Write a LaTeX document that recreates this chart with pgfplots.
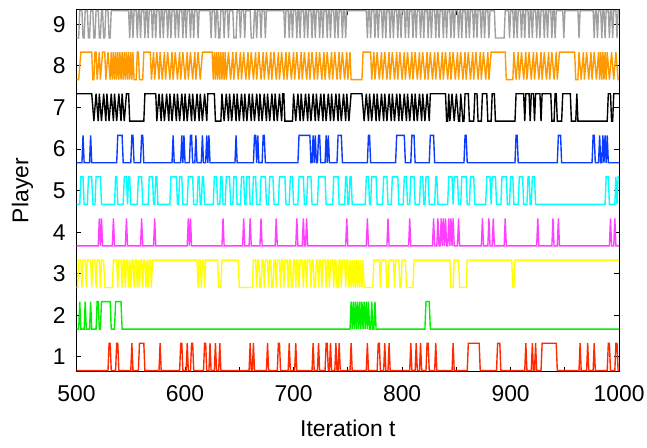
\documentclass[border=0pt]{standalone}
\usepackage{fontspec}
\setmainfont{Liberation Sans}
\usepackage{pgfplots}
\pgfplotsset{compat=1.18}
\definecolor{cred}{HTML}{FF2A00}
\definecolor{cgreen}{HTML}{00F000}
\definecolor{cyellow}{HTML}{FFFF00}
\definecolor{cmag}{HTML}{FF40FF}
\definecolor{ccyan}{HTML}{00FFFF}
\definecolor{cblue}{HTML}{0A3CFF}
\definecolor{corange}{HTML}{FF9900}
\definecolor{cgray}{HTML}{A0A0A0}
\begin{document}
\begin{tikzpicture}
\begin{axis}[
 width=273pt, height=182pt, scale only axis,
 xmin=500, xmax=1000, ymin=0.65, ymax=9.35,
 xtick={500,600,...,1000}, minor xtick={550,650,...,950},
 ytick={1,...,9},
 tick align=inside, major tick length=2.5pt, minor tick length=2.5pt,
 axis line style={line width=0.6pt},
 every tick/.style={black, line width=0.5pt},
 tick label style={font=\fontsize{11.5}{13}\selectfont},
 label style={font=\fontsize{11.5}{13}\selectfont},
 xticklabel shift=3.5pt, yticklabel shift=2pt,
 xlabel shift=2.5pt, ylabel shift=3pt,
 xlabel={Iteration t}, ylabel={Player},
 /pgf/number format/assume math mode=true,
 /pgf/number format/1000 sep={},
 every axis plot/.append style={sharp plot, line width=0.7pt, mark=none, line join=miter, miter limit=2},
]
% Player 1
\addplot[cred] coordinates {(500,0.67)(529,0.67)(530,1.33)(531,1.33)(532,0.67)(536,0.67)(537,1.33)(538,1.33)(539,0.67)(550,0.67)(551,1.33)(552,0.67)(557,0.67)(558,1.33)(562,1.33)(563,0.67)(576,0.67)(577,1.33)(578,0.67)(595,0.67)(596,1.33)(597,1.33)(598,0.67)(601,0.67)(602,1.33)(603,0.67)(605,0.67)(606,1.33)(607,1.33)(608,0.67)(617,0.67)(618,1.33)(619,1.33)(620,0.67)(622,0.67)(623,1.33)(624,0.67)(627,0.67)(628,1.33)(629,0.67)(631,0.67)(632,1.33)(633,0.67)(659,0.67)(660,1.33)(661,0.67)(662,0.67)(663,1.33)(664,0.67)(675,0.67)(676,1.33)(677,0.67)(685,0.67)(686,1.33)(687,1.33)(688,0.67)(695,0.67)(696,1.33)(697,0.67)(701,0.67)(702,1.33)(703,0.67)(717,0.67)(718,1.33)(719,0.67)(722,0.67)(723,1.33)(724,0.67)(729,0.67)(730,1.33)(731,1.33)(732,0.67)(733,0.67)(734,1.33)(735,0.67)(738,0.67)(739,1.33)(740,0.67)(741,0.67)(742,1.33)(743,0.67)(752,0.67)(753,1.33)(754,0.67)(767,0.67)(768,1.33)(769,0.67)(777,0.67)(778,1.33)(779,1.33)(780,0.67)(783,0.67)(784,1.33)(785,0.67)(787,0.67)(788,1.33)(789,0.67)(807,0.67)(808,1.33)(809,0.67)(812,0.67)(813,1.33)(814,0.67)(816,0.67)(817,1.33)(818,0.67)(822,0.67)(823,1.33)(824,1.33)(825,0.67)(830,0.67)(831,1.33)(832,0.67)(846,0.67)(847,1.33)(848,0.67)(860,0.67)(861,1.33)(871,1.33)(872,0.67)(887,0.67)(888,1.33)(890,1.33)(891,0.67)(913,0.67)(914,1.33)(915,0.67)(919,0.67)(920,1.33)(921,0.67)(922,0.67)(923,1.33)(924,0.67)(928,0.67)(929,1.33)(942,1.33)(943,0.67)(963,0.67)(964,1.33)(965,0.67)(970,0.67)(971,1.33)(972,0.67)(976,0.67)(977,1.33)(978,0.67)(989,0.67)(990,1.33)(991,1.33)(992,0.67)(996,0.67)(997,1.33)(998,1.33)(999,0.67)(1000,0.67)};
% Player 2
\addplot[cgreen] coordinates {(500,1.67)(502,1.67)(503,2.33)(504,1.67)(507,1.67)(508,2.33)(509,1.67)(512,1.67)(513,2.33)(514,1.67)(518,1.67)(519,2.33)(520,2.33)(521,1.67)(522,1.67)(523,2.33)(531,2.33)(532,1.67)(535,1.67)(536,2.33)(541,2.33)(542,1.67)(752,1.67)(753,2.33)(754,1.67)(755,2.33)(756,1.67)(757,2.33)(758,1.67)(759,2.33)(760,1.67)(761,2.33)(762,1.67)(763,2.33)(764,1.67)(765,2.33)(766,1.67)(767,2.33)(768,1.67)(769,2.33)(770,1.67)(771,1.67)(772,2.33)(773,1.67)(774,1.67)(775,2.33)(776,1.67)(821,1.67)(822,2.33)(825,2.33)(826,1.67)(1000,1.67)};
% Player 3
\addplot[cyellow] coordinates {(500,2.67)(501,2.67)(502,3.33)(504,3.33)(505,2.67)(506,3.33)(508,3.33)(509,2.67)(510,3.33)(513,3.33)(514,2.67)(515,3.33)(517,3.33)(518,2.67)(519,3.33)(521,3.33)(522,2.67)(523,3.33)(525,3.33)(526,2.67)(533,2.67)(534,3.33)(537,3.33)(538,2.67)(539,3.33)(541,3.33)(542,2.67)(543,3.33)(544,3.33)(545,2.67)(546,3.33)(547,3.33)(548,2.67)(549,3.33)(550,2.67)(551,3.33)(552,3.33)(553,2.67)(554,3.33)(555,3.33)(556,2.67)(557,3.33)(558,2.67)(559,3.33)(560,3.33)(561,2.67)(562,3.33)(563,3.33)(564,2.67)(565,3.33)(566,2.67)(567,3.33)(568,3.33)(569,2.67)(570,3.33)(611,3.33)(612,2.67)(613,3.33)(614,3.33)(615,2.67)(616,3.33)(617,3.33)(618,2.67)(619,3.33)(630,3.33)(631,2.67)(633,2.67)(634,3.33)(649,3.33)(650,2.67)(662,2.67)(663,3.33)(665,3.33)(666,2.67)(667,3.33)(668,3.33)(669,2.67)(670,2.67)(671,3.33)(672,3.33)(673,2.67)(674,3.33)(676,3.33)(677,2.67)(678,3.33)(679,3.33)(680,2.67)(681,2.67)(682,3.33)(683,3.33)(684,2.67)(685,3.33)(687,3.33)(688,2.67)(689,3.33)(690,3.33)(691,2.67)(692,3.33)(694,3.33)(695,2.67)(696,3.33)(697,3.33)(698,2.67)(699,2.67)(700,3.33)(701,3.33)(702,2.67)(703,3.33)(704,3.33)(705,2.67)(706,3.33)(708,3.33)(709,2.67)(710,3.33)(711,3.33)(712,2.67)(713,3.33)(715,3.33)(716,2.67)(717,3.33)(718,3.33)(719,2.67)(720,2.67)(721,3.33)(722,3.33)(723,2.67)(724,3.33)(725,3.33)(726,2.67)(727,3.33)(729,3.33)(730,2.67)(731,3.33)(732,3.33)(733,2.67)(734,3.33)(736,3.33)(737,2.67)(738,3.33)(739,3.33)(740,2.67)(741,2.67)(742,3.33)(743,3.33)(744,2.67)(745,3.33)(747,3.33)(748,2.67)(749,3.33)(750,3.33)(751,2.67)(752,3.33)(753,2.67)(754,3.33)(755,2.67)(756,3.33)(757,2.67)(758,3.33)(759,2.67)(760,3.33)(761,2.67)(762,3.33)(763,2.67)(764,3.33)(765,2.67)(773,2.67)(774,3.33)(779,3.33)(780,2.67)(781,3.33)(785,3.33)(786,2.67)(787,2.67)(788,3.33)(792,3.33)(793,2.67)(794,3.33)(797,3.33)(798,2.67)(799,2.67)(800,3.33)(803,3.33)(804,2.67)(810,2.67)(811,3.33)(844,3.33)(845,2.67)(847,2.67)(848,3.33)(852,3.33)(853,2.67)(859,2.67)(860,3.33)(901,3.33)(902,2.67)(903,2.67)(904,3.33)(1000,3.33)};
% Player 4
\addplot[cmag] coordinates {(500,3.67)(520,3.67)(521,4.33)(522,3.67)(523,4.33)(524,3.67)(533,3.67)(534,4.33)(535,3.67)(545,3.67)(546,4.33)(547,3.67)(559,3.67)(560,4.33)(561,3.67)(571,3.67)(572,4.33)(573,3.67)(602,3.67)(603,4.33)(604,3.67)(605,4.33)(606,3.67)(634,3.67)(635,4.33)(636,3.67)(653,3.67)(654,4.33)(655,3.67)(659,3.67)(660,4.33)(661,3.67)(669,3.67)(670,4.33)(671,3.67)(683,3.67)(684,4.33)(685,3.67)(702,3.67)(703,4.33)(704,3.67)(708,3.67)(709,4.33)(710,3.67)(711,3.67)(712,4.33)(713,3.67)(748,3.67)(749,4.33)(750,3.67)(767,3.67)(768,4.33)(769,3.67)(786,3.67)(787,4.33)(788,3.67)(806,3.67)(807,4.33)(808,3.67)(828,3.67)(829,4.33)(830,3.67)(832,3.67)(833,4.33)(834,3.67)(835,3.67)(836,4.33)(837,3.67)(838,4.33)(839,3.67)(840,4.33)(841,3.67)(842,3.67)(843,4.33)(844,3.67)(845,4.33)(846,3.67)(847,4.33)(848,3.67)(851,3.67)(852,4.33)(853,3.67)(873,3.67)(874,4.33)(875,3.67)(879,3.67)(880,4.33)(881,3.67)(883,3.67)(884,4.33)(885,3.67)(894,3.67)(895,4.33)(896,3.67)(924,3.67)(925,4.33)(926,3.67)(938,3.67)(939,4.33)(940,3.67)(943,3.67)(944,4.33)(945,3.67)(991,3.67)(992,4.33)(993,3.67)(995,3.67)(996,4.33)(997,3.67)(1000,3.67)};
% Player 5
\addplot[ccyan] coordinates {(500,4.67)(503,4.67)(504,5.33)(506,5.33)(507,4.67)(510,4.67)(511,5.33)(514,5.33)(515,4.67)(517,4.67)(518,5.33)(522,5.33)(523,4.67)(535,4.67)(536,5.33)(537,5.33)(538,4.67)(543,4.67)(544,5.33)(546,5.33)(547,4.67)(548,5.33)(549,5.33)(550,4.67)(556,4.67)(557,5.33)(560,5.33)(561,4.67)(566,4.67)(567,5.33)(570,5.33)(571,4.67)(572,4.67)(573,5.33)(574,5.33)(575,4.67)(586,4.67)(587,5.33)(592,5.33)(593,4.67)(594,4.67)(595,5.33)(597,5.33)(598,4.67)(602,4.67)(603,5.33)(607,5.33)(608,4.67)(611,4.67)(612,5.33)(613,5.33)(614,4.67)(615,4.67)(616,5.33)(617,5.33)(618,4.67)(626,4.67)(627,5.33)(629,5.33)(630,4.67)(632,4.67)(633,5.33)(634,5.33)(635,4.67)(637,4.67)(638,5.33)(641,5.33)(642,4.67)(644,4.67)(645,5.33)(647,5.33)(648,4.67)(651,4.67)(652,5.33)(654,5.33)(655,4.67)(656,4.67)(657,5.33)(659,5.33)(660,4.67)(662,4.67)(663,5.33)(665,5.33)(666,4.67)(669,4.67)(670,5.33)(674,5.33)(675,4.67)(677,4.67)(678,5.33)(681,5.33)(682,4.67)(686,4.67)(687,5.33)(692,5.33)(693,4.67)(696,4.67)(697,5.33)(699,5.33)(700,4.67)(704,4.67)(705,5.33)(709,5.33)(710,4.67)(712,4.67)(713,5.33)(716,5.33)(717,4.67)(722,4.67)(723,5.33)(729,5.33)(730,4.67)(736,4.67)(737,5.33)(741,5.33)(742,4.67)(747,4.67)(748,5.33)(749,5.33)(750,4.67)(751,4.67)(752,5.33)(753,5.33)(754,4.67)(766,4.67)(767,5.33)(769,5.33)(770,4.67)(771,4.67)(772,5.33)(776,5.33)(777,4.67)(782,4.67)(783,5.33)(786,5.33)(787,4.67)(790,4.67)(791,5.33)(796,5.33)(797,4.67)(801,4.67)(802,5.33)(804,5.33)(805,4.67)(807,4.67)(808,5.33)(811,5.33)(812,4.67)(816,4.67)(817,5.33)(819,5.33)(820,4.67)(821,4.67)(822,5.33)(824,5.33)(825,4.67)(830,4.67)(831,5.33)(832,5.33)(833,4.67)(842,4.67)(843,5.33)(846,5.33)(847,4.67)(848,5.33)(851,5.33)(852,4.67)(854,4.67)(855,5.33)(859,5.33)(860,4.67)(862,4.67)(863,5.33)(866,5.33)(867,4.67)(877,4.67)(878,5.33)(881,5.33)(882,4.67)(883,5.33)(886,5.33)(887,4.67)(891,4.67)(892,5.33)(896,5.33)(897,4.67)(899,4.67)(900,5.33)(902,5.33)(903,4.67)(907,4.67)(908,5.33)(911,5.33)(912,4.67)(915,4.67)(916,5.33)(917,5.33)(918,4.67)(919,4.67)(920,5.33)(922,5.33)(923,4.67)(987,4.67)(988,5.33)(990,5.33)(991,4.67)(996,4.67)(997,5.33)(998,4.67)(999,5.33)(1000,5.33)};
% Player 6
\addplot[cblue] coordinates {(500,5.67)(505,5.67)(506,6.33)(507,5.67)(512,5.67)(513,6.33)(514,5.67)(537,5.67)(538,6.33)(542,6.33)(543,5.67)(550,5.67)(551,6.33)(552,6.33)(553,5.67)(559,5.67)(560,6.33)(561,6.33)(562,5.67)(588,5.67)(589,6.33)(590,5.67)(596,5.67)(597,6.33)(598,5.67)(599,6.33)(600,5.67)(604,5.67)(605,6.33)(606,6.33)(607,5.67)(609,5.67)(610,6.33)(611,5.67)(615,5.67)(616,6.33)(617,5.67)(619,5.67)(620,6.33)(621,5.67)(622,6.33)(623,5.67)(646,5.67)(647,6.33)(648,5.67)(663,5.67)(664,6.33)(665,6.33)(666,5.67)(667,6.33)(668,5.67)(671,5.67)(672,6.33)(673,6.33)(674,5.67)(704,5.67)(705,6.33)(715,6.33)(716,5.67)(717,5.67)(718,6.33)(719,5.67)(720,6.33)(721,5.67)(722,5.67)(723,6.33)(724,6.33)(725,5.67)(729,5.67)(730,6.33)(731,5.67)(732,6.33)(733,5.67)(740,5.67)(741,6.33)(744,6.33)(745,5.67)(768,5.67)(769,6.33)(770,6.33)(771,5.67)(794,5.67)(795,6.33)(802,6.33)(803,5.67)(808,5.67)(809,6.33)(811,6.33)(812,5.67)(825,5.67)(826,6.33)(829,6.33)(830,5.67)(857,5.67)(858,6.33)(859,6.33)(860,5.67)(904,5.67)(905,6.33)(906,6.33)(907,5.67)(943,5.67)(944,6.33)(946,6.33)(947,5.67)(975,5.67)(976,6.33)(977,6.33)(978,5.67)(981,5.67)(982,6.33)(983,5.67)(984,5.67)(985,6.33)(986,5.67)(987,6.33)(988,5.67)(989,6.33)(990,5.67)(1000,5.67)};
% Player 7
\addplot[black] coordinates {(500,7.33)(514,7.33)(516,6.67)(518,7.33)(520,6.67)(521,7.33)(523,6.67)(525,7.33)(527,6.67)(528,7.33)(530,6.67)(532,7.33)(534,6.67)(535,7.33)(537,6.67)(539,7.33)(541,6.67)(542,7.33)(544,6.67)(546,7.33)(548,7.33)(549,6.67)(562,6.67)(563,7.33)(573,7.33)(574,6.67)(576,7.33)(578,6.67)(579,7.33)(581,6.67)(583,7.33)(585,6.67)(586,7.33)(588,6.67)(590,7.33)(592,6.67)(593,7.33)(595,6.67)(597,7.33)(599,6.67)(600,7.33)(602,6.67)(604,7.33)(606,6.67)(607,7.33)(609,6.67)(611,7.33)(613,6.67)(614,7.33)(616,6.67)(618,7.33)(620,6.67)(621,7.33)(627,7.33)(628,6.67)(633,6.67)(634,7.33)(636,6.67)(638,7.33)(640,6.67)(641,7.33)(643,6.67)(645,7.33)(647,6.67)(648,7.33)(650,6.67)(652,7.33)(654,6.67)(655,7.33)(657,6.67)(659,7.33)(661,6.67)(662,7.33)(664,6.67)(666,7.33)(668,6.67)(669,7.33)(671,6.67)(673,7.33)(675,6.67)(676,7.33)(678,6.67)(680,7.33)(682,6.67)(683,7.33)(685,6.67)(687,7.33)(689,6.67)(690,7.33)(691,7.33)(692,6.67)(699,6.67)(700,7.33)(702,6.67)(704,7.33)(706,6.67)(707,7.33)(709,6.67)(711,7.33)(713,6.67)(714,7.33)(716,6.67)(718,7.33)(720,6.67)(721,7.33)(723,6.67)(725,7.33)(727,6.67)(728,7.33)(730,6.67)(732,7.33)(734,6.67)(735,7.33)(737,6.67)(739,7.33)(741,6.67)(742,7.33)(744,6.67)(746,7.33)(748,6.67)(749,7.33)(751,6.67)(753,7.33)(763,7.33)(765,6.67)(767,7.33)(769,6.67)(770,7.33)(772,6.67)(774,7.33)(776,6.67)(777,7.33)(779,6.67)(781,7.33)(783,6.67)(784,7.33)(786,6.67)(788,7.33)(790,6.67)(791,7.33)(793,6.67)(795,7.33)(797,6.67)(798,7.33)(800,6.67)(802,7.33)(804,6.67)(805,7.33)(807,6.67)(809,7.33)(811,6.67)(812,7.33)(814,6.67)(816,7.33)(818,6.67)(819,7.33)(821,6.67)(823,7.33)(825,6.67)(826,7.33)(840,7.33)(841,6.67)(842,6.67)(843,7.33)(844,6.67)(846,7.33)(848,6.67)(850,7.33)(852,6.67)(853,6.67)(854,7.33)(856,6.67)(857,6.67)(858,7.33)(861,7.33)(862,6.67)(866,6.67)(867,7.33)(869,7.33)(870,6.67)(873,6.67)(874,7.33)(878,7.33)(879,6.67)(882,6.67)(883,7.33)(885,7.33)(886,6.67)(904,6.67)(905,7.33)(912,7.33)(913,6.67)(914,7.33)(917,7.33)(918,6.67)(919,7.33)(921,7.33)(922,6.67)(923,7.33)(927,7.33)(928,6.67)(929,7.33)(937,7.33)(938,6.67)(940,6.67)(941,7.33)(942,7.33)(943,6.67)(947,6.67)(948,7.33)(955,7.33)(956,6.67)(960,6.67)(961,7.33)(962,6.67)(989,6.67)(990,7.33)(992,7.33)(993,6.67)(994,6.67)(995,7.33)(1000,7.33)};
% Player 8
\addplot[corange] coordinates {(500,7.67)(502,7.67)(504,8.33)(514,8.33)(515,7.67)(516,7.67)(517,8.33)(518,8.33)(519,7.67)(521,8.33)(522,7.67)(524,8.33)(526,8.33)(527,7.67)(529,8.33)(531,7.67)(532,8.33)(533,7.67)(534,8.33)(535,7.67)(536,8.33)(537,7.67)(538,8.33)(539,7.67)(540,8.33)(541,7.67)(542,8.33)(543,7.67)(544,8.33)(545,7.67)(546,8.33)(547,7.67)(548,8.33)(549,7.67)(550,8.33)(551,7.67)(552,8.33)(553,7.67)(555,7.67)(556,8.33)(557,8.33)(558,7.67)(561,7.67)(562,8.33)(568,8.33)(569,7.67)(571,8.33)(572,7.67)(574,8.33)(576,7.67)(577,8.33)(579,7.67)(581,8.33)(582,7.67)(584,8.33)(586,7.67)(588,8.33)(589,7.67)(591,8.33)(593,7.67)(595,8.33)(596,7.67)(598,8.33)(600,7.67)(602,8.33)(603,7.67)(605,8.33)(607,7.67)(609,8.33)(610,7.67)(612,8.33)(614,7.67)(616,8.33)(625,8.33)(626,7.67)(627,8.33)(628,7.67)(629,8.33)(630,7.67)(631,8.33)(632,7.67)(633,8.33)(634,7.67)(635,8.33)(636,7.67)(637,8.33)(638,7.67)(640,8.33)(642,7.67)(644,8.33)(645,7.67)(647,8.33)(649,7.67)(651,8.33)(652,7.67)(654,8.33)(656,7.67)(658,8.33)(659,7.67)(661,8.33)(663,7.67)(665,8.33)(666,7.67)(668,8.33)(670,7.67)(672,8.33)(673,7.67)(675,8.33)(677,7.67)(679,8.33)(680,7.67)(682,8.33)(684,7.67)(686,8.33)(687,7.67)(689,8.33)(691,7.67)(693,8.33)(694,7.67)(696,8.33)(698,7.67)(700,8.33)(701,7.67)(703,8.33)(705,7.67)(707,8.33)(708,7.67)(710,8.33)(712,7.67)(714,8.33)(715,7.67)(717,8.33)(719,7.67)(721,8.33)(722,7.67)(724,8.33)(726,7.67)(728,8.33)(729,7.67)(731,8.33)(733,7.67)(735,8.33)(736,7.67)(738,8.33)(740,7.67)(742,8.33)(743,7.67)(745,8.33)(747,7.67)(749,8.33)(750,7.67)(752,8.33)(753,7.67)(763,7.67)(764,8.33)(771,8.33)(772,7.67)(774,8.33)(775,7.67)(777,8.33)(779,7.67)(781,8.33)(782,7.67)(784,8.33)(786,7.67)(788,8.33)(789,7.67)(791,8.33)(793,7.67)(795,8.33)(796,7.67)(798,8.33)(800,7.67)(802,8.33)(803,7.67)(805,8.33)(807,7.67)(809,8.33)(810,7.67)(812,8.33)(814,7.67)(816,8.33)(817,7.67)(819,8.33)(821,7.67)(823,8.33)(824,7.67)(826,8.33)(828,7.67)(830,8.33)(831,7.67)(833,8.33)(835,7.67)(837,8.33)(838,7.67)(840,8.33)(842,7.67)(844,8.33)(845,7.67)(847,8.33)(849,7.67)(851,8.33)(852,7.67)(854,8.33)(856,7.67)(858,8.33)(859,7.67)(861,8.33)(863,7.67)(865,8.33)(866,7.67)(868,8.33)(870,7.67)(872,8.33)(873,7.67)(875,8.33)(877,7.67)(879,8.33)(880,7.67)(882,8.33)(895,8.33)(896,7.67)(902,7.67)(903,8.33)(905,7.67)(907,8.33)(908,7.67)(910,8.33)(912,7.67)(914,8.33)(915,7.67)(917,8.33)(919,7.67)(921,8.33)(922,7.67)(924,8.33)(926,7.67)(928,8.33)(929,7.67)(931,8.33)(933,7.67)(935,8.33)(936,7.67)(938,8.33)(940,7.67)(942,8.33)(943,7.67)(945,8.33)(959,8.33)(960,7.67)(962,7.67)(963,8.33)(965,7.67)(967,8.33)(968,7.67)(970,8.33)(972,7.67)(974,8.33)(975,7.67)(977,8.33)(979,7.67)(981,8.33)(982,7.67)(983,8.33)(984,7.67)(985,8.33)(986,7.67)(987,8.33)(988,7.67)(989,8.33)(991,7.67)(993,8.33)(995,7.67)(997,8.33)(999,7.67)(1000,7.67)};
% Player 9
\addplot[cgray] coordinates {(500,8.67)(502,8.67)(503,9.33)(505,9.33)(506,8.67)(507,8.67)(508,9.33)(510,9.33)(511,8.67)(512,8.67)(513,9.33)(515,9.33)(516,8.67)(517,8.67)(518,9.33)(520,9.33)(521,8.67)(522,8.67)(523,9.33)(524,9.33)(525,8.67)(526,8.67)(527,9.33)(529,9.33)(530,8.67)(531,8.67)(532,9.33)(548,9.33)(549,8.67)(550,9.33)(551,9.33)(552,8.67)(553,9.33)(555,9.33)(556,8.67)(557,9.33)(558,9.33)(559,8.67)(560,9.33)(562,9.33)(563,8.67)(564,9.33)(565,9.33)(566,8.67)(567,9.33)(569,9.33)(570,8.67)(571,9.33)(572,9.33)(573,8.67)(574,9.33)(576,9.33)(577,8.67)(578,9.33)(579,9.33)(580,8.67)(581,9.33)(583,9.33)(584,8.67)(585,9.33)(586,9.33)(587,8.67)(588,9.33)(590,9.33)(591,8.67)(592,9.33)(593,9.33)(594,8.67)(595,9.33)(597,9.33)(598,8.67)(599,9.33)(600,9.33)(601,8.67)(602,9.33)(604,9.33)(605,8.67)(606,9.33)(607,9.33)(608,8.67)(609,9.33)(611,9.33)(612,8.67)(613,9.33)(623,9.33)(624,8.67)(625,9.33)(627,9.33)(628,8.67)(629,9.33)(630,9.33)(631,8.67)(632,8.67)(633,9.33)(635,9.33)(636,8.67)(637,9.33)(639,9.33)(640,8.67)(641,9.33)(644,9.33)(645,8.67)(647,8.67)(648,9.33)(650,9.33)(651,8.67)(652,9.33)(654,9.33)(655,8.67)(656,9.33)(660,9.33)(661,8.67)(663,8.67)(664,9.33)(665,9.33)(666,8.67)(667,9.33)(669,9.33)(670,8.67)(671,9.33)(673,9.33)(674,8.67)(675,9.33)(691,9.33)(692,8.67)(693,9.33)(695,9.33)(696,8.67)(697,9.33)(698,9.33)(699,8.67)(700,9.33)(702,9.33)(703,8.67)(704,9.33)(705,9.33)(706,8.67)(707,9.33)(709,9.33)(710,8.67)(711,9.33)(712,9.33)(713,8.67)(714,9.33)(716,9.33)(717,8.67)(718,9.33)(719,9.33)(720,8.67)(721,9.33)(723,9.33)(724,8.67)(725,9.33)(726,9.33)(727,8.67)(728,9.33)(730,9.33)(731,8.67)(732,9.33)(733,9.33)(734,8.67)(735,9.33)(737,9.33)(738,8.67)(739,9.33)(740,9.33)(741,8.67)(742,9.33)(744,9.33)(745,8.67)(746,9.33)(747,9.33)(748,8.67)(749,9.33)(767,9.33)(768,8.67)(769,9.33)(770,9.33)(771,8.67)(772,9.33)(774,9.33)(775,8.67)(776,9.33)(777,9.33)(778,8.67)(779,9.33)(781,9.33)(782,8.67)(783,9.33)(784,9.33)(785,8.67)(786,9.33)(788,9.33)(789,8.67)(790,9.33)(791,9.33)(792,8.67)(793,9.33)(795,9.33)(796,8.67)(797,9.33)(798,9.33)(799,8.67)(800,9.33)(802,9.33)(803,8.67)(804,9.33)(805,9.33)(806,8.67)(807,9.33)(809,9.33)(810,8.67)(811,9.33)(812,9.33)(813,8.67)(814,9.33)(816,9.33)(817,8.67)(818,9.33)(819,9.33)(820,8.67)(821,9.33)(823,9.33)(824,8.67)(825,9.33)(826,9.33)(827,8.67)(828,9.33)(830,9.33)(831,8.67)(832,9.33)(833,9.33)(834,8.67)(835,9.33)(837,9.33)(838,8.67)(839,9.33)(840,9.33)(841,8.67)(842,9.33)(844,9.33)(845,8.67)(846,9.33)(847,9.33)(848,8.67)(849,9.33)(851,9.33)(852,8.67)(853,9.33)(854,9.33)(855,8.67)(856,9.33)(858,9.33)(859,8.67)(860,9.33)(861,9.33)(862,8.67)(863,9.33)(865,9.33)(866,8.67)(867,9.33)(868,9.33)(869,8.67)(870,9.33)(872,9.33)(873,8.67)(874,9.33)(875,9.33)(876,8.67)(877,9.33)(879,9.33)(880,8.67)(881,9.33)(885,9.33)(886,8.67)(894,8.67)(895,9.33)(898,9.33)(899,8.67)(900,9.33)(902,9.33)(903,8.67)(904,9.33)(905,9.33)(906,8.67)(907,9.33)(909,9.33)(910,8.67)(911,9.33)(912,9.33)(913,8.67)(914,9.33)(916,9.33)(917,8.67)(918,9.33)(919,9.33)(920,8.67)(921,9.33)(923,9.33)(924,8.67)(925,9.33)(926,9.33)(927,8.67)(928,9.33)(930,9.33)(931,8.67)(932,9.33)(933,9.33)(934,8.67)(935,9.33)(937,9.33)(938,8.67)(939,9.33)(940,9.33)(941,8.67)(942,9.33)(948,9.33)(949,8.67)(950,9.33)(962,9.33)(963,8.67)(964,9.33)(976,9.33)(977,8.67)(978,9.33)(979,9.33)(980,8.67)(981,9.33)(983,9.33)(984,8.67)(985,9.33)(986,9.33)(987,8.67)(988,9.33)(990,9.33)(991,8.67)(992,9.33)(993,9.33)(994,8.67)(995,9.33)(997,9.33)(998,8.67)(999,9.33)(1000,9.33)};
\end{axis}
\pgfresetboundingbox
\path (-38.5pt,-38pt) rectangle (287pt,186.9pt);
\end{tikzpicture}
\end{document}
